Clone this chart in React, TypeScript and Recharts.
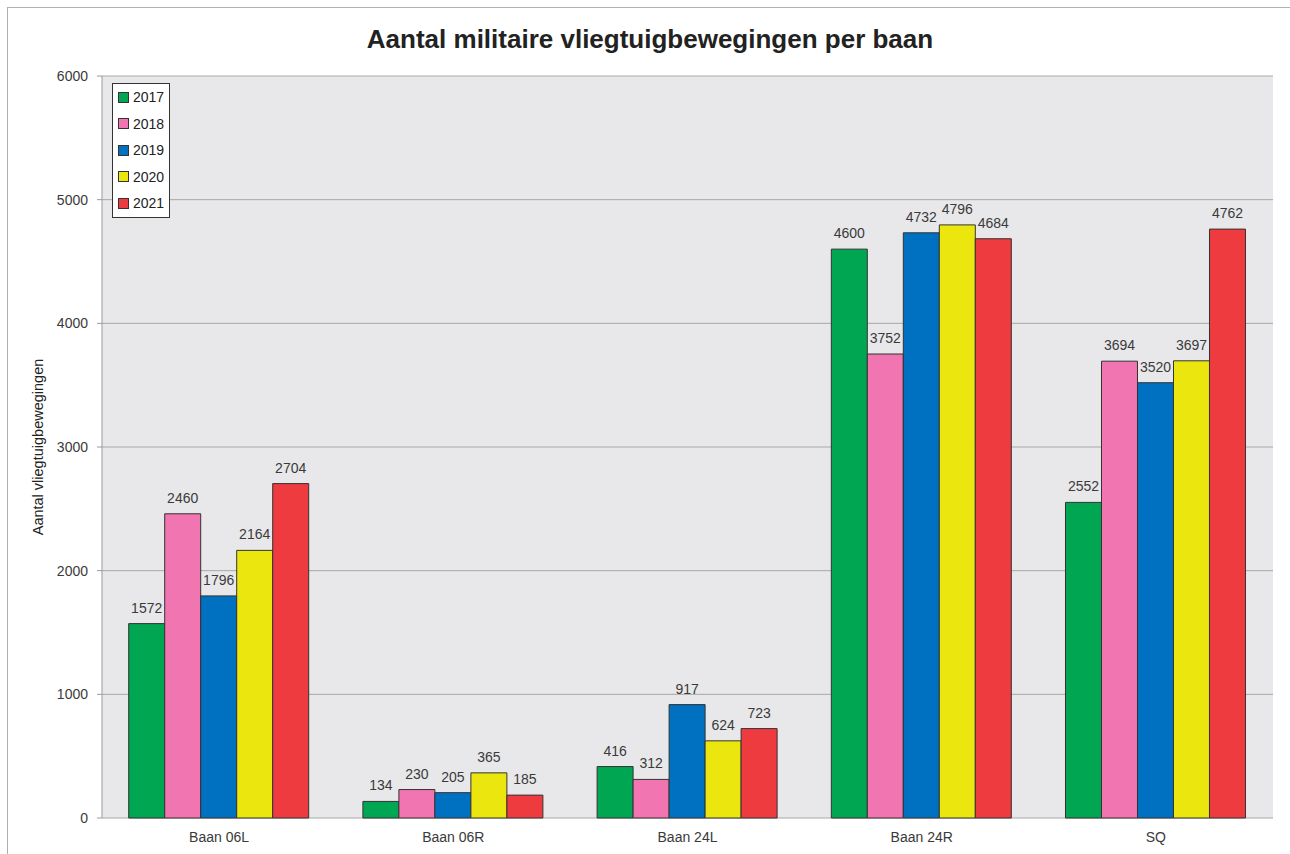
import { BarChart, Bar, XAxis, YAxis, CartesianGrid, LabelList } from "recharts";

const runways = ["Baan 06L", "Baan 06R", "Baan 24L", "Baan 24R", "SQ"];
const years = ["2017", "2018", "2019", "2020", "2021"];
const colors = ["#00a651", "#f075b0", "#0070c0", "#ece60f", "#ee3b3f"];

const v2017 = [1572, 134, 416, 4600, 2552];
const v2018 = [2460, 230, 312, 3752, 3694];
const v2019 = [1796, 205, 917, 4732, 3520];
const v2020 = [2164, 365, 624, 4796, 3697];
const v2021 = [2704, 185, 723, 4684, 4762];
const series = [v2017, v2018, v2019, v2020, v2021];

const yTicks = [0, 1000, 2000, 3000, 4000, 5000, 6000];

const data = runways.map((name, i) => {
  const row: Record<string, string | number> = { name, idx: i + 0.5 };
  years.forEach((y, s) => (row[y] = series[s][i]));
  return row;
});

const font = "'Liberation Sans', Arial, sans-serif";
const tickStyle = { fontSize: 14, fill: "#3a3a3a", fontFamily: font };

export default function App() {
  return (
    <div style={{ position: "absolute", left: 0, top: 0, width: 1290, height: 854, background: "#fff", fontFamily: font }}>
      <div style={{ position: "absolute", left: 7, top: 7, width: 1300, height: 900, borderTop: "1.5px solid #b0b0b0", borderLeft: "1.5px solid #b0b0b0" }} />
      <div style={{ position: "absolute", left: 0, width: 1300, top: 24, textAlign: "center", fontSize: 26, fontWeight: "bold", color: "#222" }}>
        Aantal militaire vliegtuigbewegingen per baan
      </div>
      <div style={{ position: "absolute", left: 0, top: 0 }}>
        <BarChart
          width={1290}
          height={854}
          data={data}
          margin={{ top: 76, right: 17, bottom: 0, left: 40 }}
          barGap={0}
          barCategoryGap="11.4%"
        >
          <CartesianGrid vertical={false} stroke="#a8a8a8" strokeWidth={1} fill="#e8e8ea" />
          <XAxis
            xAxisId="b"
            type="number"
            dataKey="idx"
            domain={[0, 5]}
            ticks={[0, 1, 2, 3, 4, 5]}
            height={0}
            axisLine={{ stroke: "#9a9a9a" }}
            tickLine={{ stroke: "#9a9a9a" }}
            tickSize={6}
            tick={() => <g />}
          />
          <XAxis
            dataKey="name"
            height={36}
            axisLine={false}
            tickLine={false}
            tickSize={6}
            tickMargin={8}
            tick={tickStyle}
            interval={0}
          />
          <YAxis
            width={62}
            domain={[0, 6000]}
            ticks={yTicks}
            interval={0}
            axisLine={{ stroke: "#9a9a9a" }}
            tickLine={{ stroke: "#9a9a9a" }}
            tickSize={5}
            tickMargin={9}
            tick={tickStyle}
            label={{
              value: "Aantal vliegtuigbewegingen",
              angle: -90,
              position: "center",
              dx: -33,
              style: { fontSize: 14.5, fill: "#222", fontFamily: font },
            }}
          />
          {years.map((y, s) => (
            <Bar key={y} dataKey={y} fill={colors[s]} stroke="#333" strokeWidth={1} isAnimationActive={false}>
              <LabelList dataKey={y} position="top" offset={11} style={{ fontSize: 14, fill: "#3a3a3a", fontFamily: font }} />
            </Bar>
          ))}
        </BarChart>
      </div>
      <div style={{ position: "absolute", left: 112, top: 83, width: 56, border: "1px solid #333", background: "#fff" }}>
        {years.map((y, s) => (
          <div key={y} style={{ height: 26.5, display: "flex", alignItems: "center", paddingLeft: 5, fontSize: 14, color: "#222" }}>
            <span style={{ display: "inline-block", width: 9, height: 9, background: colors[s], border: "1px solid #333", marginRight: 4 }} />
            {y}
          </div>
        ))}
      </div>
    </div>
  );
}
